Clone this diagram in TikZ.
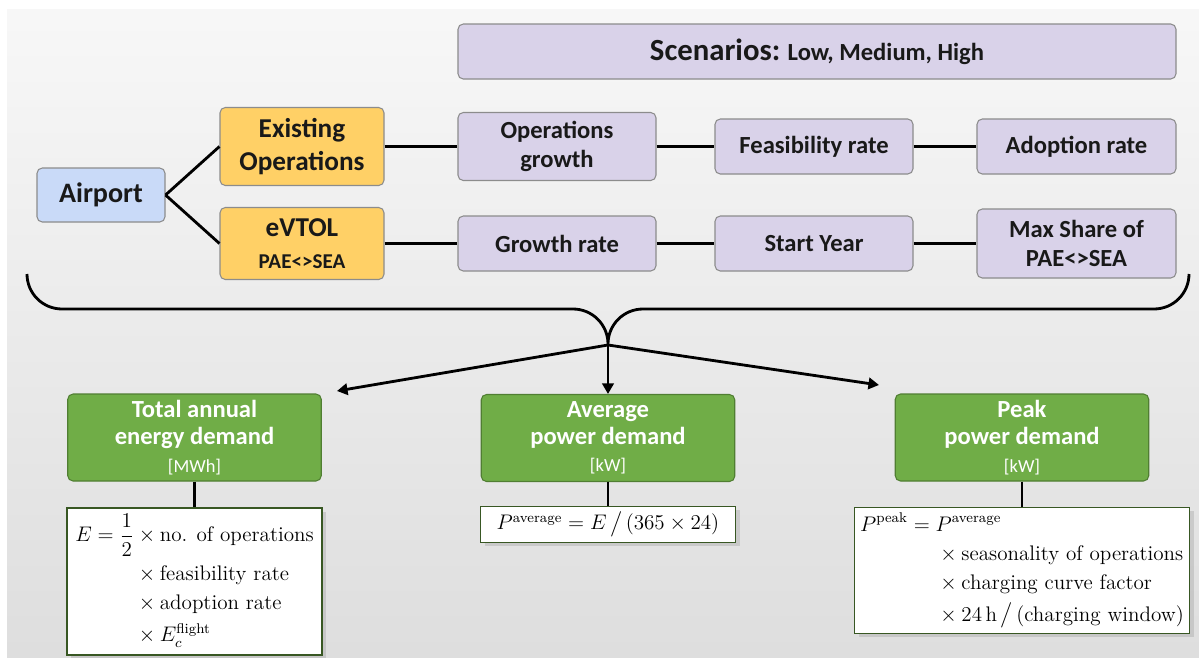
\documentclass[tikz,border=0pt]{standalone}
\usepackage[no-math]{fontspec}
\usepackage{amsmath}
\newfontfamily\calibri{Carlito}
\usetikzlibrary{arrows.meta,shadows}
\definecolor{lavender}{HTML}{D9D2E9}
\definecolor{skyblue}{HTML}{C9DAF8}
\definecolor{gold}{HTML}{FFD066}
\definecolor{leaf}{HTML}{70AD47}
\definecolor{leafdark}{HTML}{507E32}
\definecolor{boxgrey}{HTML}{8C8C8C}
\definecolor{formline}{HTML}{385723}
\tikzset{
  box/.style={draw=boxgrey,line width=0.6pt,rounded corners=3pt,align=center,inner sep=2pt,
    text=black!90,font=\calibri\bfseries\fontsize{14}{16.5}\selectfont},
  param/.style={box,fill=lavender,minimum width=3.96cm,minimum height=1.1cm},
  branch/.style={box,fill=gold,minimum width=3.28cm,font=\calibri\bfseries\fontsize{15.5}{18.5}\selectfont},
  result/.style={box,draw=leafdark,fill=leaf,text=white,minimum width=5.07cm,minimum height=1.74cm,
    font=\calibri\bfseries\fontsize{14}{15.5}\selectfont},
  formula/.style={draw=formline,line width=0.6pt,fill=white,align=left,inner sep=3pt,
    font=\fontsize{12}{13.5}\selectfont,
    drop shadow={shadow xshift=2.5pt,shadow yshift=-2pt,opacity=0.25,fill=black!50}},
  conn/.style={line width=1.6pt},
  arr/.style={line width=1.6pt,-{Triangle[length=6pt,width=6.5pt]}}
}
\newcommand{\unittext}[1]{{\mdseries\fontsize{10.5}{11}\selectfont #1}}
\begin{document}
\begin{tikzpicture}
\useasboundingbox (0,0) rectangle (23.98,-13.16);
\shade[top color=white!97!black,bottom color=black!13] (0.14,-0.18) rectangle (23.98,-13.16);

\node[box,fill=lavender,minimum width=14.36cm,minimum height=1.1cm] (scen) at (16.34,-1.03)
  {{\fontsize{17.5}{20}\selectfont Scenarios:} Low, Medium, High};

\node[box,fill=skyblue,minimum width=2.56cm,minimum height=1.08cm,font=\calibri\bfseries\fontsize{16}{18}\selectfont] (airport) at (2.02,-3.9) {Airport};
\node[branch,minimum height=1.56cm] (exist) at (6.04,-2.93) {Existing\\Operations};
\node[branch,minimum height=1.44cm] (evtol) at (6.04,-4.87) {eVTOL\\{\fontsize{12}{14}\selectfont PAE<>SEA}};

\node[param,minimum height=1.36cm] (opsg) at (11.14,-2.93) {Operations\\growth};
\node[param] (feas) at (16.28,-2.93) {Feasibility rate};
\node[param,minimum width=3.98cm] (adopt) at (21.53,-2.93) {Adoption rate};
\node[param] (growth) at (11.14,-4.87) {Growth rate};
\node[param] (start) at (16.28,-4.87) {Start Year};
\node[param,minimum width=3.98cm,minimum height=1.38cm] (maxsh) at (21.53,-4.87) {Max Share of\\PAE<>SEA};

\draw[conn] (airport.east) -- (exist.west);
\draw[conn] (airport.east) -- (evtol.west);
\draw[conn] (exist) -- (opsg);
\draw[conn] (opsg) -- (feas);
\draw[conn] (feas) -- (adopt);
\draw[conn] (evtol) -- (growth);
\draw[conn] (growth) -- (start);
\draw[conn] (start) -- (maxsh);

\coordinate (tip) at (12.16,-6.9);
\draw[conn] (0.54,-5.48) arc[start angle=180,end angle=270,radius=0.7] -- (11.46,-6.18)
  arc[start angle=90,end angle=0,radius=0.7] arc[start angle=180,end angle=90,radius=0.7]
  -- (23.08,-6.18) arc[start angle=270,end angle=360,radius=0.7];

\node[result] (energy) at (3.89,-8.75) {Total annual\\energy demand\\\unittext{[MWh]}};
\node[result] (avg) at (12.16,-8.76) {Average\\power demand\\\unittext{[kW]}};
\node[result] (peak) at (20.44,-8.75) {Peak\\power demand\\\unittext{[kW]}};

\coordinate (eTip) at (6.74,-7.82);
\coordinate (pTip) at (17.58,-7.7);
\draw[arr] (tip) -- (eTip);
\draw[arr] (tip) -- (avg.north);
\draw[arr] (tip) -- (pTip);

\node[formula,minimum width=5.1cm,minimum height=2.94cm] (fE) at (3.89,-11.63)
  {$\begin{aligned} E=\frac{1}{2}&\times\text{no. of operations}\\
   &\times\text{feasibility rate}\\
   &\times\text{adoption rate}\\
   &\times E_c^{\text{flight}}\end{aligned}$};
\node[formula,minimum width=5.1cm,minimum height=0.7cm] (fAvg) at (12.16,-10.49)
  {$P^{\text{average}}=E\,\big/\,(365\times24)$};
\node[formula,minimum width=6.4cm,minimum height=2.5cm] (fPeak) at (20.44,-11.41)
  {$\begin{aligned} P^{\text{peak}}={}&P^{\text{average}}\\
   &\times\text{seasonality of operations}\\
   &\times\text{charging curve factor}\\
   &\times 24\,\text{h}\,\big/\,(\text{charging window})\end{aligned}$};

\draw[conn] (energy.south) -- (fE.north);
\draw[conn] (avg.south) -- (fAvg.north);
\draw[conn] (peak.south) -- (fPeak.north);
\end{tikzpicture}
\end{document}
